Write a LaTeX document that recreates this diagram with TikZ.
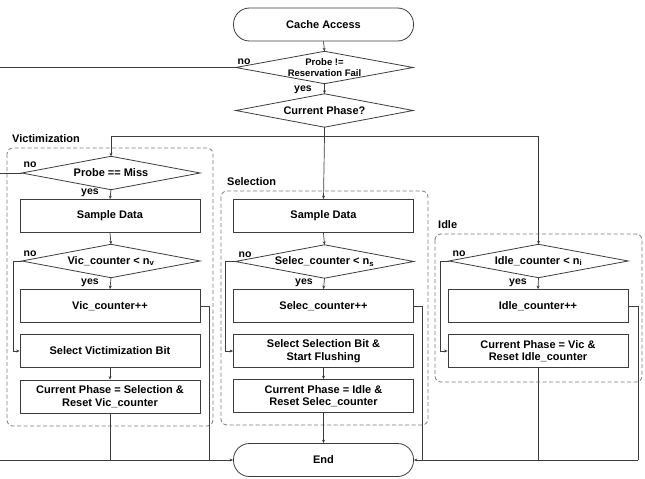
\documentclass[tikz,border=0pt]{standalone}
\usepackage{fontspec}
\setmainfont{Liberation Sans}
\usetikzlibrary{arrows.meta}
\definecolor{linec}{HTML}{3C3C3C}
\definecolor{dashc}{HTML}{7A7A7A}
\begin{document}
\begin{tikzpicture}[x=1pt,y=-1pt,
  every node/.style={font=\fontsize{11}{12.5}\selectfont\bfseries, text=black},
  procbox/.style={draw=linec, line width=0.8pt, rectangle, minimum width=180pt, minimum height=33pt, inner sep=0pt, align=center},
  % decision nodes: fixed-size box whose outline is drawn as a rhombus below
  decbox/.style={rectangle, minimum width=178pt, minimum height=33pt, inner sep=0pt, align=center},
  rhomb/.style={draw=linec, line width=0.8pt},
  termbox/.style={draw=linec, line width=0.8pt, rectangle, rounded corners=16pt, minimum width=180pt, minimum height=33pt, inner sep=0pt},
  phasebox/.style={draw=dashc, line width=0.8pt, dash pattern=on 4pt off 2.5pt, rounded corners=6pt},
  flow/.style={draw=linec, line width=0.7pt},
  arr/.style={flow, -{Stealth[length=3.5pt,width=3pt]}},
  lbl/.style={font=\fontsize{10.5}{12}\selectfont\bfseries, inner sep=0pt},
  ttl/.style={font=\fontsize{11}{12}\selectfont\bfseries, inner sep=0pt, anchor=west}]

\useasboundingbox (0,0) rectangle (645,479);

% phase frames
\draw[phasebox] (7,148) rectangle (213,426);
\draw[phasebox] (221,191) rectangle (428,425);
\draw[phasebox] (435,234) rectangle (642,382);
\node[ttl] (tv) at (12,139) {Victimization};
\node[ttl] (ts) at (227,182) {Selection};
\node[ttl] (ti) at (438,225) {Idle};

% common part
\node[termbox] (ca) at (323.5,24.5) {Cache Access};
\node[decbox, minimum width=177pt, minimum height=32pt, font=\fontsize{9.5}{11}\selectfont\bfseries] (p1) at (324.5,67.5) {Probe !=\\Reservation Fail};
\node[decbox, minimum width=177pt] (cp) at (324.5,110.5) {Current Phase?};
\node[termbox] (end) at (323.5,460) {End};

% victimization phase
\node[decbox] (pm) at (111,173) {Probe == Miss};
\node[procbox] (sdv) at (110,216) {Sample Data};
\node[decbox] (vc) at (111,261) {Vic\_counter < n\textsubscript{v}};
\node[procbox] (vci) at (110,306) {Vic\_counter++};
\node[procbox] (svb) at (110,351) {Select Victimization Bit};
\node[procbox] (cpv) at (110,396.5) {Current Phase = Selection \&\\Reset Vic\_counter};

% selection phase
\node[procbox] (sds) at (323.5,216) {Sample Data};
\node[decbox] (sc) at (324.5,261.5) {Selec\_counter < n\textsubscript{s}};
\node[procbox] (sci) at (323.5,306) {Selec\_counter++};
\node[procbox] (ssb) at (323.5,351) {Select Selection Bit \&\\Start Flushing};
\node[procbox] (cps) at (323.5,396) {Current Phase = Idle \&\\Reset Selec\_counter};

% idle phase
\node[decbox, minimum width=179pt] (ic) at (538.5,261) {Idle\_counter < n\textsubscript{i}};
\node[procbox] (ici) at (538,306) {Idle\_counter++};
\node[procbox] (cpi) at (538,351) {Current Phase = Vic \&\\Reset Idle\_counter};

% rhombus outlines of the decisions
\foreach \d in {p1,cp,pm,vc,sc,ic}
  \draw[rhomb] (\d.west) -- (\d.north) -- (\d.east) -- (\d.south) -- cycle;

% branch labels
\node[lbl] (n1) at (244,62) {no};
\node[lbl] (y1) at (303,90) {yes};
\node[lbl] (n2) at (30,165) {no};
\node[lbl] (y2) at (90,193) {yes};
\node[lbl] (n3) at (30,254) {no};
\node[lbl] (y3) at (90,283) {yes};
\node[lbl] (n4) at (245,255) {no};
\node[lbl] (y4) at (304,283) {yes};
\node[lbl] (n5) at (459,254) {no};
\node[lbl] (y5) at (518,283) {yes};

% free ends and junctions
\coordinate (el1) at (0,67.5);
\coordinate (el2) at (0,173);
\coordinate (bl) at (0,460);
\coordinate (br) at (638,460);
\coordinate (fork) at (324.5,136);

% top of the flow
\draw[arr] (ca.south) -- (p1.north);
\draw[flow] (p1.west) -- (el1);
\draw[arr] (p1.south) -- (cp.north);
\draw[flow] (cp.south) -- (fork);
\draw[arr] (fork) -- (sds.north);
\draw[arr] (fork) -| (pm.north);
\draw[arr] (fork) -| (ic.north);

% victimization connectors
\draw[flow] (pm.west) -- (el2);
\draw[arr] (pm.south) -- (sdv.north);
\draw[arr] (sdv.south) -- (vc.north);
\draw[arr] (vc.south) -- (vci.north);
\draw[arr] (vc.west) -- (13,261) |- (svb.west);
\draw[arr] (svb.south) -- (cpv.north);
\draw[flow] (vci.east) -| (209,460);
\draw[flow] (cpv.south) -- (cpv.south |- bl);

% selection connectors
\draw[arr] (sds.south) -- (sc.north);
\draw[arr] (sc.south) -- (sci.north);
\draw[arr] (sc.west) -- (225,261.5) |- (ssb.west);
\draw[arr] (ssb.south) -- (cps.north);
\draw[arr] (cps.south) -- (end.north);
\draw[flow] (sci.east) -| (422,460);

% idle connectors
\draw[arr] (ic.south) -- (ici.north);
\draw[arr] (ic.west) -- (440,261) |- (cpi.west);
\draw[flow] (ici.east) -| (br);
\draw[flow] (cpi.south) -- (cpi.south |- br);

% into the end node
\draw[arr] (bl) -- (end.west);
\draw[arr] (br) -- (end.east);
\end{tikzpicture}
\end{document}
